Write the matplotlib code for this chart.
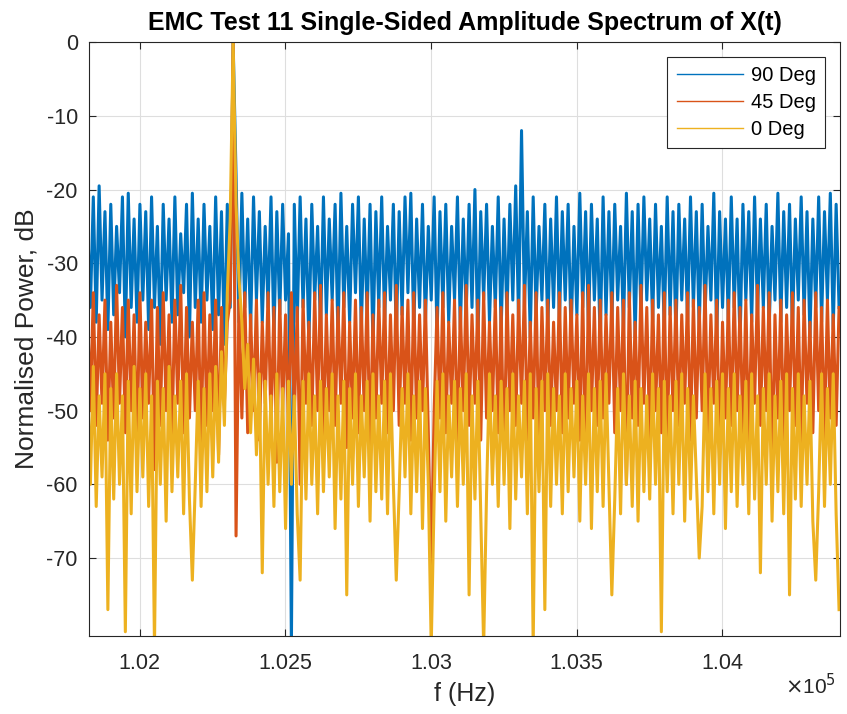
import numpy as np
import matplotlib
matplotlib.use('Agg')
import matplotlib.pyplot as plt
import matplotlib.ticker as mticker

# =====================================================================================================================#
# DATA (normalised power in dB, one bin every 10 Hz)
# =====================================================================================================================#
f_start = 101821.0  # Hz, first bin
f_step = 10.0       # Hz, bin width

p_90 = [-24, -36, -21, -38, -19.5, -35, -23, -39, -22, -37, -25, -34, -21, -40, -20.5, -36, -24, -38, -22, -35,
        -23, -39, -21, -36, -25, -41, -22, -35, -24, -38, -21, -37, -26, -34, -22, -40, -20.5, -36, -24, -38,
        -22, -35, -25, -39, -21, -37, -23, -41, -22, -36, 0, -18, -38, -20.5, -36, -24, -39, -21, -35, -23,
        -38, -25, -36, -21, -40, -23, -37, -22, -35, -26, -82, -22, -38, -21, -36, -24, -41, -22, -35, -25,
        -39, -21, -37, -24, -35, -22, -40, -20.5, -36, -25, -38, -22, -34, -21, -39, -24, -37, -22, -41, -23,
        -36, -21, -38, -25, -35, -22, -40, -23, -37, -21, -34, -20.5, -39, -24, -36, -22, -38, -25, -35, -21,
        -40, -23, -36, -22, -38, -25, -35, -21, -39, -24, -37, -22, -36, -20, -41, -23, -35, -22, -38, -25,
        -36, -21, -39, -24, -37, -22, -35, -19.5, -38, -12, -36, -23, -40, -21, -37, -25, -35, -22, -39, -24,
        -36, -21, -38, -23, -35, -22, -40, -25, -37, -20.5, -36, -23, -39, -22, -35, -24, -41, -21, -37, -23,
        -38, -22, -35, -25, -39, -20.5, -36, -23, -40, -22, -37, -21, -35, -24, -38, -22, -36, -25, -39, -21,
        -37, -23, -40, -22, -35, -24, -38, -21, -36, -23, -39, -22, -37, -25, -35, -20.5, -40, -23, -36, -24,
        -38, -21, -36, -24, -41, -22, -35, -23, -38, -21, -37, -24, -36, -22, -39, -25, -35, -20.5, -38, -23,
        -36, -22, -39, -24, -35, -21, -37, -23, -40, -24, -36, -21, -38, -23, -35, -20.5, -39, -22, -36]

p_45 = [-36, -50, -34, -52, -37, -49, -35, -54, -38, -51, -33, -49, -36, -53, -35, -50, -37, -55, -34, -51,
        -38, -49, -35, -58, -36, -52, -34, -50, -37, -54, -35, -49, -33, -53, -36, -51, -38, -50, -35, -55,
        -34, -52, -37, -50, -35, -56, -36, -49, -38, -35, 0, -67, -35, -51, -34, -53, -37, -50, -35, -54,
        -38, -49, -34, -52, -36, -57, -35, -50, -37, -53, -34, -51, -36, -60, -35, -49, -38, -52, -34, -50,
        -33, -54, -37, -50, -35, -52, -36, -49, -34, -55, -38, -51, -35, -53, -36, -50, -34, -56, -37, -51,
        -35, -49, -34, -53, -37, -50, -33, -52, -36, -49, -35, -54, -34, -51, -37, -50, -35, -53, -72, -50,
        -36, -51, -34, -53, -38, -49, -35, -55, -36, -50, -33, -52, -37, -49, -35, -54, -34, -51, -38, -50,
        -35, -53, -36, -58, -34, -50, -37, -52, -35, -49, -33, -54, -38, -51, -34, -55, -36, -50, -35, -52,
        -38, -50, -34, -53, -36, -51, -35, -49, -37, -54, -34, -57, -33, -50, -36, -52, -35, -51, -37, -49,
        -34, -53, -36, -50, -35, -60, -34, -51, -38, -52, -33, -49, -36, -54, -35, -50, -37, -53, -34, -55,
        -36, -50, -35, -52, -37, -49, -34, -54, -35, -51, -36, -50, -33, -53, -37, -49, -35, -56, -38, -51,
        -35, -52, -34, -50, -36, -53, -35, -55, -37, -49, -33, -52, -36, -50, -34, -58, -37, -51, -35, -54,
        -37, -50, -34, -52, -36, -55, -35, -49, -38, -53, -34, -50, -36, -54, -35, -51, -37, -52, -36]

p_0 = [-46, -60, -44, -63, -48, -59, -45, -77, -47, -62, -45, -60, -48, -80, -46, -64, -44, -61, -47, -59,
       -45, -63, -48, -82, -46, -60, -47, -65, -44, -61, -48, -59, -46, -64, -45, -62, -73, -60, -46, -63,
       -47, -61, -45, -59, -44, -57, -42, -52, -34, -24, 0, -22, -32, -38, -47, -41, -53, -43, -56, -45,
       -72, -46, -60, -48, -63, -45, -61, -47, -66, -46, -60, -48, -64, -73, -46, -62, -45, -60, -48, -64,
       -46, -61, -47, -59, -45, -66, -48, -62, -46, -75, -47, -60, -45, -63, -48, -59, -46, -65, -45, -61,
       -48, -62, -46, -64, -45, -60, -73, -61, -47, -59, -45, -64, -48, -61, -46, -66, -47, -60, -82, -62,
       -46, -61, -45, -65, -48, -59, -46, -63, -47, -60, -45, -75, -48, -62, -46, -64, -82, -61, -45, -60,
       -48, -63, -46, -60, -47, -66, -45, -62, -48, -59, -46, -64, -45, -82, -47, -61, -46, -77, -45, -63,
       -47, -60, -48, -64, -45, -61, -47, -59, -46, -65, -48, -60, -45, -66, -47, -61, -46, -63, -45, -60,
       -75, -62, -47, -64, -45, -60, -48, -63, -46, -65, -47, -61, -48, -62, -45, -60, -47, -80, -46, -61,
       -48, -64, -46, -60, -45, -65, -47, -62, -48, -59, -70, -63, -45, -61, -47, -64, -46, -60, -45, -66,
       -47, -61, -45, -63, -48, -60, -46, -64, -45, -62, -48, -72, -47, -60, -45, -65, -48, -61, -46, -64,
       -45, -75, -47, -62, -45, -63, -48, -60, -46, -65, -73, -61, -45, -63, -47, -60, -45, -64, -77]

series = [('90 Deg', p_90, '#0072BD'),
          ('45 Deg', p_45, '#D95319'),
          ('0 Deg', p_0, '#EDB120')]

x_ticks = [102000, 102500, 103000, 103500, 104000]
y_ticks = [0, -10, -20, -30, -40, -50, -60, -70]

# =====================================================================================================================#
# PLOT
# =====================================================================================================================#
plt.rcParams['font.family'] = ['Liberation Sans', 'DejaVu Sans']
plt.rcParams['axes.unicode_minus'] = False

fig = plt.figure(figsize=(8.47, 7.14), dpi=100)
ax = fig.add_axes([0.105, 0.109, 0.887, 0.832])

# thick strokes so the noise floor reads as a filled band, like the dense original
for name, values, color in series:
    f = f_start + f_step * np.arange(len(values))
    ax.plot(f, values, color=color, linewidth=2.2, label=name)

ax.set_xlim(101826, 104405)
ax.set_ylim(-80.6, 0)
ax.set_xticks(x_ticks)
ax.set_yticks(y_ticks)
ax.xaxis.set_major_formatter(mticker.FuncFormatter(lambda v, pos: '%g' % (v / 1e5)))
ax.tick_params(direction='in', length=5, width=0.8, labelsize=15.5, colors='#262626',
               top=True, right=True)
ax.tick_params(axis='x', pad=12)
ax.tick_params(axis='y', pad=8)
ax.grid(True, color='#dedede', linewidth=0.8)
ax.set_axisbelow(True)
for s in ax.spines.values():
    s.set_color('#262626')
    s.set_linewidth(0.8)

ax.set_xlabel('f (Hz)', fontsize=18, color='#262626', labelpad=6)
ax.set_ylabel('Normalised Power, dB', fontsize=19, color='#262626', labelpad=6)
ax.set_title('EMC Test 11 Single-Sided Amplitude Spectrum of X(t)', fontsize=18, fontweight='bold', pad=9)
fig.text(0.987, 0.022, r'$\times$10$^5$', fontsize=15, ha='right', va='bottom', color='#262626')

leg = ax.legend(loc='upper right', fontsize=14.5, frameon=True, fancybox=False, edgecolor='#262626',
                borderaxespad=0.75, handlelength=3.3, labelspacing=0.38, handletextpad=0.4, borderpad=0.45)
leg.get_frame().set_linewidth(0.8)
leg.get_frame().set_alpha(1)
for line in leg.get_lines():
    line.set_linewidth(1.0)

fig.savefig('out.png', dpi=100)
